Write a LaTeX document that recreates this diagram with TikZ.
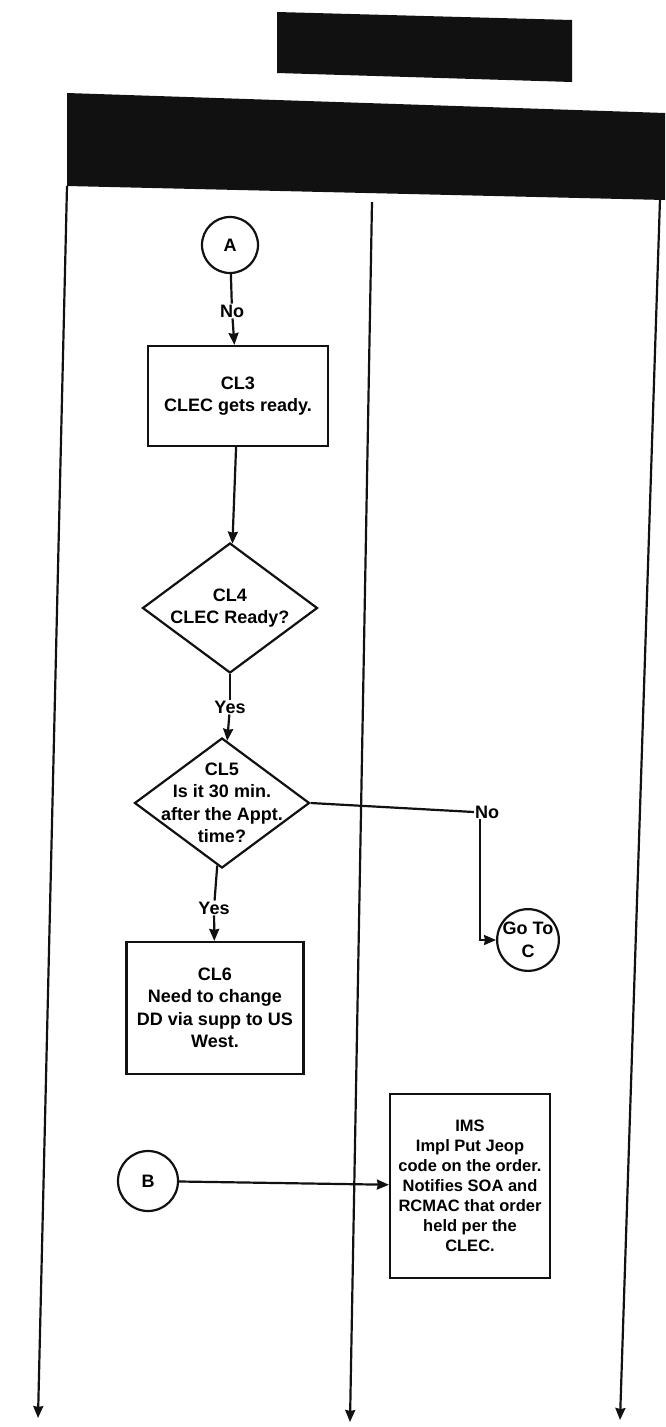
\documentclass[tikz,border=0pt]{standalone}
\usepackage{fontspec}
\setmainfont{Liberation Sans}
\usetikzlibrary{arrows.meta,shapes.geometric,positioning}
\definecolor{ink}{HTML}{111111}
\newcommand{\boxfont}{\fontsize{18}{22.5}\selectfont\bfseries}
\newcommand{\imsfont}{\fontsize{16.5}{20}\selectfont\bfseries}

\begin{document}
\begin{tikzpicture}[x=1pt,y=-1pt,font=\boxfont,
  wire/.style={ink,line width=2.2pt},
  flow/.style={ink,line width=2.2pt,-{Stealth[length=12pt,width=10pt,inset=1pt]}},
  procbox/.style={draw=ink,line width=2.2pt,align=center,inner sep=2pt},
  decision/.style={draw=ink,diamond,line width=2.2pt,inner sep=0pt,minimum width=175pt,minimum height=130pt},
  connector/.style={draw=ink,circle,line width=2.2pt,inner sep=0pt,align=center},
  tag/.style={inner sep=1pt,fill=white}]
\useasboundingbox (0,0) rectangle (665,1427);

% title bars
\fill[ink] (277,12) -- (572,20) -- (572,82) -- (277,73) -- cycle;
\fill[ink] (67,93) -- (665,113) -- (665,200) -- (67,186) -- cycle;

% swim lanes
\coordinate (laneLtop) at (67,186);
\coordinate (laneLend) at (38,1418);
\coordinate (laneMtop) at (372,202);
\coordinate (laneMend) at (350,1422);
\coordinate (laneRtop) at (660,199);
\coordinate (laneRend) at (620,1420);
\draw[flow] (laneLtop) -- (laneLend);
\draw[flow] (laneMtop) -- (laneMend);
\draw[flow] (laneRtop) -- (laneRend);

% nodes
\node[connector,minimum size=56pt] (a) at (230,245) {A};
\node[tag] (noA) at (232,311) {No};
\node[procbox,minimum width=180pt,minimum height=100pt] (cl3) at (238,396) {CL3\\CLEC gets ready.};
\node[decision] (cl4) at (230,608) {};
\node[align=center,inner sep=0pt] (cl4txt) at (cl4.center) {CL4\\CLEC Ready?};
\node[tag] (yes1) at (230,707) {Yes};
\node[decision] (cl5) at (222,803) {};
\node[align=center,inner sep=0pt] (cl5txt) at (cl5.center) {CL5\\Is it 30 min.\\after the Appt.\\time?};
\node[tag] (no2) at (487,812) {No};
\node[connector,minimum size=60pt] (goc) at (528,940) {Go To\\C};
\node[tag] (yes2) at (214,908) {Yes};
\node[procbox,minimum width=177pt,minimum height=132pt] (cl6) at (215,1008) {CL6\\Need to change\\DD via supp to US\\West.};
\node[connector,minimum size=60pt] (b) at (148,1181) {B};
\node[procbox,minimum width=160pt,minimum height=184pt,font=\imsfont] (ims) at (470,1186) {IMS\\Impl Put Jeop\\code on the order.\\Notifies SOA and\\RCMAC that order\\held per the\\CLEC.};

% connectors
\draw[wire] (a) -- (noA);
\draw[flow] (noA) -- (cl3);
\draw[flow] (cl3) -- (cl4);
\draw[wire] (cl4) -- (yes1);
\draw[flow] (yes1) -- (cl5);
\draw[wire] (cl5.east) -- (no2.west);
\draw[flow] ([xshift=6pt]no2.south west) |- (goc.west);
\draw[wire] (cl5) -- (yes2);
\draw[flow] (yes2) -- (cl6);
\draw[flow] (b) -- (ims);
\end{tikzpicture}
\end{document}
